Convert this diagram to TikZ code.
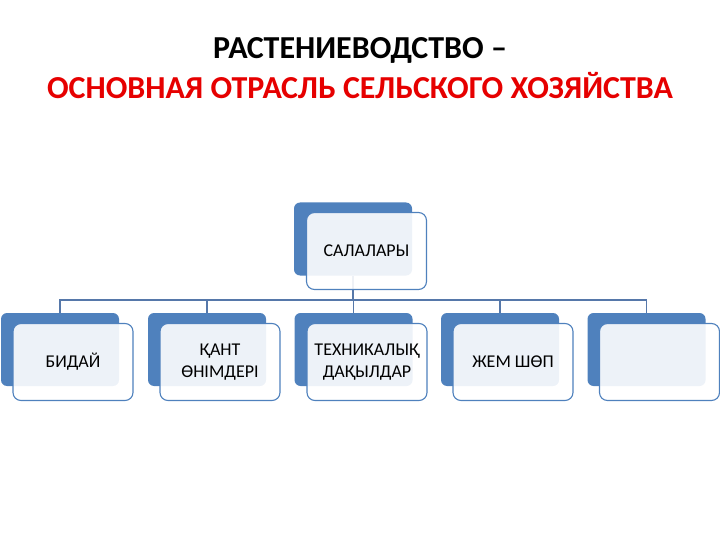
\documentclass[tikz,border=0pt]{standalone}
\usepackage{fontspec}
\setmainfont{Carlito}
\usepackage{tikz}

\definecolor{boxblue}{RGB}{79,129,189}
\definecolor{lineblue}{RGB}{86,120,170}
\definecolor{titlered}{RGB}{230,0,0}

\begin{document}
\begin{tikzpicture}[x=1pt,y=-1pt,
    backbox/.style={draw=none, fill=boxblue, rounded corners=6pt,
        minimum width=118pt, minimum height=73pt, inner sep=0pt},
    frontbox/.style={draw=boxblue, line width=1.1pt, fill=white, fill opacity=0.9,
        text opacity=1, rounded corners=8pt, minimum width=120pt, minimum height=77pt,
        inner sep=0pt, align=center, font=\fontsize{18}{21.6}\selectfont},
    treeline/.style={draw=lineblue, line width=1.4pt}]

\useasboundingbox (0,0) rectangle (720,540);

% title
\node[anchor=base, font=\fontsize{32}{38}\selectfont\bfseries] (title) at (360,59) {РАСТЕНИЕВОДСТВО –};
\node[anchor=base, text=titlered, font=\fontsize{32}{38}\selectfont\bfseries] (subtitle) at (360,99) {ОСНОВНАЯ ОТРАСЛЬ СЕЛЬСКОГО ХОЗЯЙСТВА};

% back boxes
\node[backbox] (top) at (353,239) {};
\node[backbox] (b1) at (60,349.5) {};
\node[backbox] (b2) at (207,349.5) {};
\node[backbox] (b3) at (353.5,349.5) {};
\node[backbox] (b4) at (500,349.5) {};
\node[backbox] (b5) at (646.5,349.5) {};

% tree lines
\coordinate (hub) at (353,300);
\draw[treeline] (top.south) -- (hub);
\draw[treeline] (b1.north) -- (b1.north |- hub) -- (b5.north |- hub) -- (b5.north);
\draw[treeline] (b2.north) -- (b2.north |- hub);
\draw[treeline] (b3.north) -- (b3.north |- hub);
\draw[treeline] (b4.north) -- (b4.north |- hub);

% front boxes
\node[frontbox] (topf) at (366.5,251) {САЛАЛАРЫ};
\node[frontbox] (f1) at (73,362) {БИДАЙ};
\node[frontbox] (f2) at (220,362) {ҚАНТ\\ӨНІМДЕРІ};
\node[frontbox] (f3) at (367,362) {ТЕХНИКАЛЫҚ\\ДАҚЫЛДАР};
\node[frontbox] (f4) at (513,362) {ЖЕМ ШӨП};
\node[frontbox] (f5) at (659.5,362) {};

\end{tikzpicture}
\end{document}
